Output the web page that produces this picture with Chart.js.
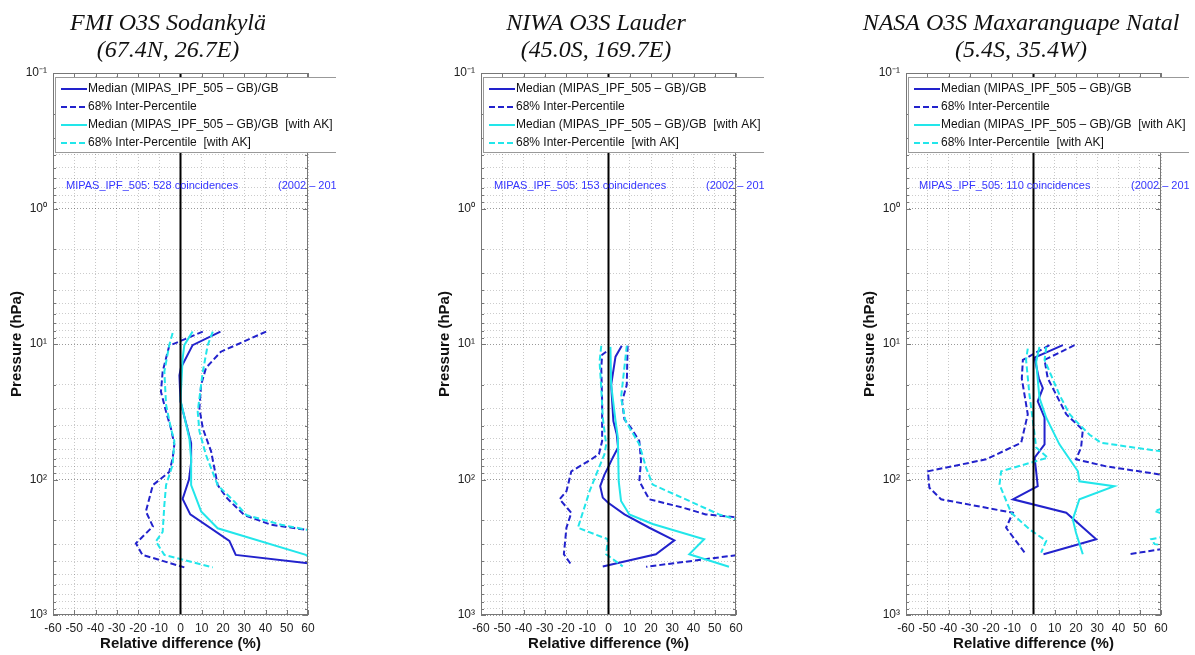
<!DOCTYPE html>
<html>
<head>
<meta charset="utf-8">
<title>MIPAS IPF 505 vs O3S ozonesondes</title>
<script src="https://cdn.jsdelivr.net/npm/chart.js@4.4.1/dist/chart.umd.min.js"></script>
<style>
  html, body { margin: 0; padding: 0; background: #fff; }
  body { position: relative; width: 1195px; height: 655px; overflow: hidden; }
  canvas { position: absolute; top: 0; }
</style>
</head>
<body>
<canvas id="fmi" width="336" height="655" style="left:0px"></canvas>
<canvas id="niwa" width="336" height="655" style="left:428px"></canvas>
<canvas id="nasa" width="336" height="655" style="left:853px"></canvas>
<script>
// Station headers and number of collocations
const stations = ['FMI O3S Sodankylä', 'NIWA O3S Lauder', 'NASA O3S Maxaranguape Natal'];
const coords = ['(67.4N, 26.7E)', '(45.0S, 169.7E)', '(5.4S, 35.4W)'];
const coincidences = [528, 153, 110];
const period = '(2002 – 2012)';

// Pressure decades that get a label
const pressureTicks = [0.1, 1, 10, 100, 1000];
const pressureTickLabels = ['10⁻¹', '10⁰', '10¹', '10²', '10³'];

const legendLabels = [
  'Median (MIPAS_IPF_505 – GB)/GB',
  '68% Inter-Percentile',
  'Median (MIPAS_IPF_505 – GB)/GB  [with AK]',
  '68% Inter-Percentile  [with AK]'
];

// Profiles as [relative difference (%), pressure (hPa)]
// Sodankylä
const fmiMedian = [[18.8, 8.1], [5.7, 10.2], [0.2, 15], [-0.5, 17], [0, 26.6], [5, 54], [5, 75], [4, 100], [1, 139], [4.6, 181], [23, 284], [26, 360], [60, 415]];
const fmiLow = [[10.5, 8.1], [-5.3, 10.3], [-8.4, 16], [-9.2, 22.5], [-6.8, 31.5], [-4.5, 42], [-2.9, 55], [-3.7, 70], [-5.3, 88], [-13, 110], [-16.3, 172], [-13, 222], [-21, 296], [-17.9, 360], [1.8, 445]];
const fmiHigh = [[40.3, 8.1], [19, 11.4], [12, 15], [9.7, 20], [8.9, 29.8], [10.5, 42], [14.4, 62], [17.5, 110], [22, 138], [30, 183], [42.7, 216], [60, 236]];
const fmiMedianAK = [[5.7, 8.1], [1.8, 10.2], [1, 12.8], [0, 26], [4.2, 50], [5, 70], [5, 110], [9.7, 172], [17.5, 229], [59, 360], [60, 370]];
const fmiLowAK = [[-3.7, 8.3], [-5.3, 10.2], [-7.6, 16], [-6.8, 28], [-4.5, 42], [-2.9, 52], [-3.7, 78], [-6.8, 110], [-7.6, 154], [-8.4, 244], [-11.6, 286], [-7.6, 360], [15.2, 445]];
const fmiHighAK = [[15.2, 8.1], [12.8, 10.2], [10.5, 16], [9.7, 20], [8.1, 31.6], [8.9, 44], [12, 66], [17.5, 110], [25.4, 146], [31, 183], [47.5, 216], [60, 236]];

// Lauder
const niwaMedian = [[6.25, 10.3], [3.3, 12.4], [1.25, 20], [2.3, 37], [3.9, 46.6], [4.5, 58], [2, 69], [-0.3, 82], [-1.9, 92], [-3.9, 112], [-2.7, 136], [-0.3, 148], [7.5, 181], [19.2, 227], [31, 281], [22.3, 356], [-2.7, 438]];
const niwaLow = [[-1.1, 11.4], [-3, 12], [-3.4, 15], [-3, 26.5], [-3, 52], [-4.5, 65], [-8.1, 71], [-17.5, 87], [-19, 109], [-19.8, 122], [-23, 140], [-17.5, 176], [-19.8, 227], [-21, 356], [-17.8, 420]];
const niwaHigh = [[9, 10.3], [8.6, 20], [6.4, 26.5], [7.5, 36], [10.6, 41.6], [14.5, 52], [15.3, 73], [14.5, 103], [19.2, 140], [34.8, 161], [45.8, 181], [75, 200], [95, 280], [80, 330], [17.7, 441]];
const niwaMedianAK = [[0.9, 10.5], [1.25, 20], [3.3, 37], [4.4, 49], [4.8, 103], [5.9, 144], [9.8, 181], [20.8, 213], [45, 276], [38, 356], [56.7, 441]];
const niwaLowAK = [[-3.4, 10.3], [-4.2, 13.5], [-3.4, 21.2], [-2.7, 35], [-1.1, 55], [-1.9, 65], [-5.8, 92], [-8.9, 122], [-14.4, 227], [-0.3, 276], [-1.1, 356], [6.7, 438]];
const niwaHighAK = [[8.6, 10.3], [5.9, 25], [8, 37], [14.5, 55], [17.7, 82], [20.8, 109], [38, 144], [52, 181], [61, 199]];

// Natal
const nasaMedian = [[13.8, 10.2], [0.5, 12.6], [2.5, 17.9], [4.4, 21.2], [2, 26.5], [5.2, 35], [5.2, 55], [0.5, 69], [1.25, 87], [2, 112], [-9.7, 140], [15.4, 176], [29.5, 276], [4.7, 356]];
const nasaLow = [[7.5, 10.2], [-5, 13.1], [-5.5, 18], [-2.7, 33], [-5.8, 53.6], [-22.3, 71], [-49.7, 87], [-49, 115], [-43.5, 140], [-9.7, 176], [-12.9, 227], [-4.2, 346]];
const nasaHigh = [[19.3, 10.2], [5.2, 13.1], [6.7, 17.9], [15.4, 33], [23.2, 43], [22.4, 58], [20, 71], [34.2, 80], [60, 92], [90, 150], [90, 250], [75, 300], [45, 356]];
const nasaMedianAK = [[2.8, 10.5], [1.25, 13.5], [2.8, 25], [6, 35], [12.2, 55], [20.9, 87], [21.6, 103], [38, 112], [21.6, 140], [18.5, 197], [20, 247], [23.2, 356]];
const nasaLowAK = [[-2.7, 10.8], [-3.5, 13.1], [-1.9, 23.7], [0, 40], [1.25, 58], [6.7, 69], [-15.2, 87], [-16, 109], [-10.5, 176], [-1.9, 233], [6, 284], [3.6, 346]];
const nasaHighAK = [[6, 10.5], [5.2, 13.1], [12.2, 23.7], [17, 33], [21.6, 39.4], [26.4, 46.7], [31.8, 53.6], [60, 62], [85, 120], [57, 171], [80, 230], [55.4, 276], [57, 300], [90, 350]];

const BLUE = '#2222cc';
const CYAN = '#22e6ea';
const DASH = [6, 3];
const styles = [
  { color: BLUE, dash: [] },
  { color: BLUE, dash: DASH },
  { color: CYAN, dash: [] },
  { color: CYAN, dash: DASH }
];

const SANS = '"Liberation Sans", Arial, Helvetica, sans-serif';
const SERIF = '"Liberation Serif", "Times New Roman", serif';

const isDecade = v => Math.abs(Math.log10(v) - Math.round(Math.log10(v))) < 1e-9;

// station header, zero line, closed box with inward ticks, run info and the boxed legend
const frame = {
  id: 'frame',
  afterDatasetsDraw(chart, args, opts) {
    const { ctx, chartArea: a, scales: { x, y } } = chart;
    ctx.save();

    // two-line header centred over the whole canvas
    ctx.font = 'italic 24px ' + SERIF;
    ctx.fillStyle = '#111';
    ctx.textAlign = 'center';
    ctx.textBaseline = 'alphabetic';
    opts.header.forEach((txt, k) => ctx.fillText(txt, chart.width / 2, 30 + k * 27));
    ctx.textAlign = 'left';

    const x0 = x.getPixelForValue(0);
    ctx.strokeStyle = '#000';
    ctx.lineWidth = 2;
    ctx.beginPath();
    ctx.moveTo(x0, a.top);
    ctx.lineTo(x0, a.bottom);
    ctx.stroke();

    ctx.strokeStyle = '#777';
    ctx.lineWidth = 1;
    ctx.strokeRect(a.left + 0.5, a.top + 0.5, a.width - 1, a.height - 1);
    ctx.beginPath();
    x.ticks.forEach(t => {
      const px = Math.round(x.getPixelForValue(t.value)) + 0.5;
      ctx.moveTo(px, a.top); ctx.lineTo(px, a.top + 5);
      ctx.moveTo(px, a.bottom); ctx.lineTo(px, a.bottom - 5);
    });
    y.ticks.forEach(t => {
      const py = Math.round(y.getPixelForValue(t.value)) + 0.5;
      const len = isDecade(t.value) ? 5 : 3;
      ctx.moveTo(a.left, py); ctx.lineTo(a.left + len, py);
      ctx.moveTo(a.right, py); ctx.lineTo(a.right - len, py);
    });
    ctx.stroke();

    ctx.font = '11px ' + SANS;
    ctx.textBaseline = 'middle';
    ctx.fillStyle = '#3535ff';
    ctx.fillText('MIPAS_IPF_505: ' + opts.count + ' coincidences', a.left + 13, a.top + 113);
    ctx.fillText(period, a.left + 225, a.top + 113);

    const lx = a.left + 2, ly = a.top + 4;
    ctx.fillStyle = '#fff';
    ctx.fillRect(lx, ly, 300, 75);
    ctx.strokeStyle = '#999';
    ctx.strokeRect(lx + 0.5, ly + 0.5, 300, 75);
    ctx.font = '12px ' + SANS;
    legendLabels.forEach((label, i) => {
      const ry = ly + 12 + i * 18;
      ctx.strokeStyle = styles[i].color;
      ctx.lineWidth = 2;
      ctx.setLineDash(styles[i].dash);
      ctx.beginPath();
      ctx.moveTo(lx + 6, ry);
      ctx.lineTo(lx + 32, ry);
      ctx.stroke();
      ctx.setLineDash([]);
      ctx.fillStyle = '#111';
      ctx.fillText(label, lx + 33, ry);
    });
    ctx.restore();
  }
};

function line(data, style) {
  return {
    data,
    borderColor: style.color,
    borderDash: style.dash,
    borderWidth: 2,
    showLine: true,
    pointRadius: 0,
    tension: 0
  };
}

function profileChart(id, i, median, low, high, medianAK, lowAK, highAK) {
  return new Chart(document.getElementById(id), {
    type: 'scatter',
    data: {
      // earlier datasets are painted last, so the AK curves sit on top
      datasets: [
        line(medianAK, styles[2]), line(lowAK, styles[3]), line(highAK, styles[3]),
        line(median, styles[0]), line(low, styles[1]), line(high, styles[1])
      ]
    },
    plugins: [frame],
    options: {
      responsive: false,
      animation: false,
      events: [],
      layout: { padding: { top: 73, right: 28 } },
      plugins: {
        legend: { display: false },
        tooltip: { enabled: false },
        title: { display: false },
        frame: { header: [stations[i], coords[i]], count: coincidences[i] }
      },
      scales: {
        x: {
          type: 'linear',
          min: -60,
          max: 60,
          ticks: { stepSize: 10, autoSkip: false, maxRotation: 0, padding: 6, color: '#222', font: { family: SANS, size: 12 } },
          grid: { color: 'rgba(0,0,0,0.22)', drawTicks: false },
          border: { display: false, dash: [1, 2] },
          title: {
            display: true,
            text: 'Relative difference (%)',
            color: '#111',
            font: { family: SANS, size: 15, weight: 'bold' },
            padding: { top: 0, bottom: 2 }
          },
          afterFit: s => { s.height = 40; }
        },
        y: {
          type: 'logarithmic',
          reverse: true,
          min: 0.1,
          max: 1000,
          afterBuildTicks: s => {
            const vals = [];
            for (let e = -1; e < 3; e++) {
              for (let m = 1; m < 10; m++) vals.push(m * Math.pow(10, e));
            }
            vals.push(1000);
            s.ticks = vals.map(v => ({ value: v }));
          },
          ticks: {
            autoSkip: false,
            padding: 6,
            color: '#222',
            font: { family: SANS, size: 12 },
            callback: v => {
              const k = pressureTicks.findIndex(t => Math.abs(t - v) < 1e-9 * t);
              return k >= 0 ? pressureTickLabels[k] : '';
            }
          },
          grid: {
            drawTicks: false,
            color: c => (c.tick && isDecade(c.tick.value)) ? 'rgba(0,0,0,0.4)' : 'rgba(0,0,0,0.2)'
          },
          border: { display: false, dash: [1, 2] },
          title: {
            display: true,
            text: 'Pressure (hPa)',
            color: '#111',
            font: { family: SANS, size: 15, weight: 'bold' },
            padding: { top: 8, bottom: 0 }
          },
          afterFit: s => { s.width = 53; }
        }
      }
    }
  });
}

window.addEventListener('load', () => {
  profileChart('fmi', 0, fmiMedian, fmiLow, fmiHigh, fmiMedianAK, fmiLowAK, fmiHighAK);
  profileChart('niwa', 1, niwaMedian, niwaLow, niwaHigh, niwaMedianAK, niwaLowAK, niwaHighAK);
  profileChart('nasa', 2, nasaMedian, nasaLow, nasaHigh, nasaMedianAK, nasaLowAK, nasaHighAK);
});
</script>
</body>
</html>
